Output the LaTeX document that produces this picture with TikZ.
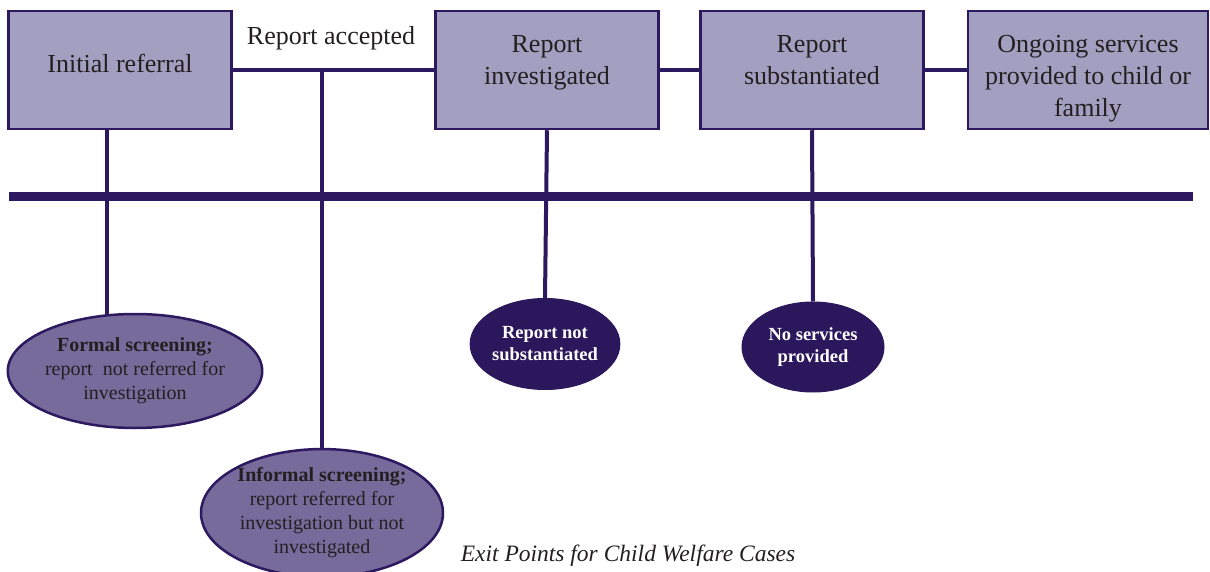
\documentclass[tikz,border=0pt]{standalone}
\usepackage{fontspec}
\setmainfont{Liberation Serif}
\usetikzlibrary{shapes.geometric,backgrounds}
\definecolor{exitline}{RGB}{45,25,95}
\definecolor{exitbox}{RGB}{163,159,192}
\definecolor{exitmid}{RGB}{119,107,155}
\definecolor{exitdark}{RGB}{43,23,92}
\definecolor{exittext}{RGB}{35,31,32}

\begin{document}
\begin{tikzpicture}[x=1pt,y=-1pt]
            \tikzstyle{every node}=[text=exittext,align=center]
            \tikzstyle{stagebox}=[draw=exitline,fill=exitbox,line width=2.5pt,minimum width=223pt,minimum height=118pt,font=\fontsize{26}{32}\selectfont]
            \tikzstyle{exitsoft}=[ellipse,draw=exitline,fill=exitmid,line width=2.5pt,inner sep=0pt,font=\fontsize{20}{24}\selectfont]
            \tikzstyle{exithard}=[ellipse,draw=exitdark,fill=exitdark,line width=1pt,inner sep=0pt,text=white,font=\fontsize{18.5}{22}\selectfont\bfseries]
            \useasboundingbox (0,0) rectangle (1210,572);
            % stages
            \node[stagebox,text depth=14pt] (ir) at (120, 70) {Initial referral};
            \node[stagebox,text depth=19.6pt] (ri) at (547, 70) {Report\\investigated};
            \node[stagebox,text depth=19.6pt] (rs) at (812, 70) {Report\\substantiated};
            \node[stagebox,minimum width=240pt,text height=98.6pt,text depth=5.6pt] (os) at (1088, 70) {Ongoing services\\provided to child or\\family};
            \node[font=\fontsize{26}{32}\selectfont] (ra) at (331, 38) {Report accepted};
            % exit points
            \node[exitsoft,minimum width=243pt,minimum height=114pt] (fs) at (135, 371) {\textbf{Formal screening;}\\report~ not referred for\\investigation};
            \node[exitsoft,minimum width=242pt,minimum height=126pt] (is) at (322, 513) {\textbf{Informal screening;}\\report referred for\\investigation but not\\investigated};
            \node[exithard,minimum width=142pt,minimum height=91pt] (rn) at (545, 344) {Report not\\substantiated};
            \node[exithard,minimum width=142pt,minimum height=90pt] (ns) at (813, 347) {No services\\provided};
            \node[font=\fontsize{23.5}{28}\selectfont\itshape] (cap) at (628, 556) {Exit Points for Child Welfare Cases};
            \coordinate (bl) at (9, 197);
            \coordinate (br) at (1193, 197);
            \coordinate (fx) at (107, 330);

            \begin{pgfonlayer}{background}
            \begin{scope}[draw=exitline,line width=4pt]
            \draw (ir.east) edge (ri.west);
            \draw (ri.east) edge (rs.west);
            \draw (rs.east) edge (os.west);
            \draw (ir.south -| fx) edge (fx);
            \draw (ir.east -| is.north) edge (is.north);
            \draw (ri.south) edge (rn.north);
            \draw (rs.south) edge (ns.north);
            \draw[line width=9pt] (bl) edge (br);
            \end{scope}
            \end{pgfonlayer}
          \end{tikzpicture}
\end{document}
